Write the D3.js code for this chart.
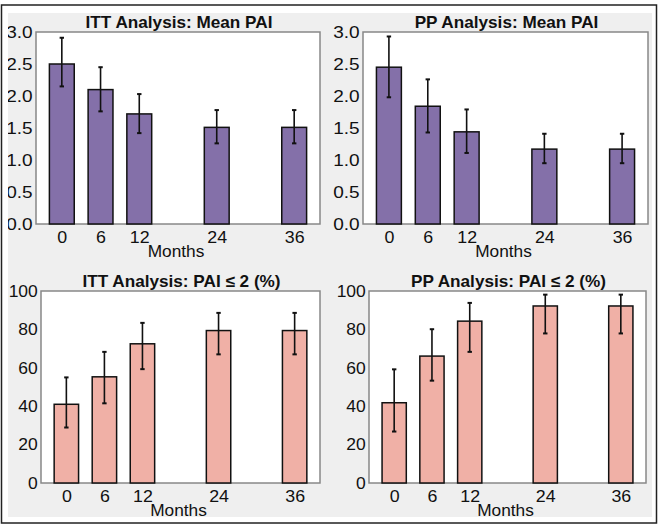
<!DOCTYPE html>
<html>
<head>
<meta charset="utf-8">
<script src="https://cdn.jsdelivr.net/npm/d3@7"></script>
<style>
html,body{margin:0;padding:0;background:#fff;}
svg{display:block;}
text{font-family:"Liberation Sans",Arial,Helvetica,sans-serif;fill:#111;}
</style>
</head>
<body>
<svg id="chart" width="661" height="526"></svg>
<script>
// ---- data ----
const months = [0, 6, 12, 24, 36];
const monthTicks = [0, 6, 12, 24, 36];
const meanTicks = [0, 0.5, 1.0, 1.5, 2.0, 2.5, 3.0];
const pctTicks = [0, 20, 40, 60, 80, 100];

const ittMean   = [2.50, 2.10, 1.72, 1.51, 1.51];
const ittMeanLo = [2.15, 1.76, 1.42, 1.26, 1.26];
const ittMeanHi = [2.91, 2.45, 2.03, 1.78, 1.78];

const ppMean   = [2.45, 1.84, 1.44, 1.17, 1.17];
const ppMeanLo = [1.98, 1.43, 1.11, 0.95, 0.95];
const ppMeanHi = [2.93, 2.26, 1.79, 1.41, 1.41];

const ittPct   = [41.0, 55.3, 72.5, 79.4, 79.4];
const ittPctLo = [28.9, 41.5, 59.3, 67.0, 67.0];
const ittPctHi = [55.0, 68.3, 83.4, 88.6, 88.6];

const ppPct   = [41.8, 66.1, 84.3, 92.2, 92.2];
const ppPctLo = [26.8, 53.3, 68.3, 77.9, 77.9];
const ppPctHi = [59.2, 80.1, 93.8, 98.1, 98.1];

const titles = ["ITT Analysis: Mean PAI", "PP Analysis: Mean PAI", "ITT Analysis: PAI \u2264 2 (%)", "PP Analysis: PAI \u2264 2 (%)"];
const xLabel = "Months";

// ---- layout ----
const panels = [
  {title: titles[0], v: ittMean, lo: ittMeanLo, hi: ittMeanHi, ticks: meanTicks, ymax: 3, fmt: d3.format(".1f"), fill: "#8470a9", x0: 36, x1: 320, y0: 32, y1: 224, tfs: 17, tsx: 1.12},
  {title: titles[1], v: ppMean, lo: ppMeanLo, hi: ppMeanHi, ticks: meanTicks, ymax: 3, fmt: d3.format(".1f"), fill: "#8470a9", x0: 363, x1: 648, y0: 32, y1: 224, tfs: 17, tsx: 1.12},
  {title: titles[2], v: ittPct, lo: ittPctLo, hi: ittPctHi, ticks: pctTicks, ymax: 100, fmt: d3.format("d"), fill: "#f0b0a6", x0: 41, x1: 320, y0: 291, y1: 483, tfs: 16.5, tsx: 1.06},
  {title: titles[3], v: ppPct, lo: ppPctLo, hi: ppPctHi, ticks: pctTicks, ymax: 100, fmt: d3.format("d"), fill: "#f0b0a6", x0: 369, x1: 646, y0: 291, y1: 483, tfs: 16.5, tsx: 1.06}
];
const SX = 1.08;
const barW = 3.85;

const svg = d3.select("#chart");
svg.append("rect").attr("x", 1.5).attr("y", 5).attr("width", 655).attr("height", 518)
  .attr("fill", "#fff").attr("stroke", "#222").attr("stroke-width", 1.5);
svg.append("defs").append("clipPath").attr("id", "clipP")
  .append("rect").attr("x", 8).attr("y", 13).attr("width", 644).attr("height", 504);
svg.append("rect").attr("x", 8).attr("y", 13).attr("width", 644).attr("height", 504).attr("fill", "#efefef");
const root = svg.append("g").attr("clip-path", "url(#clipP)");

panels.forEach(p => {
  const x = d3.scaleLinear().domain([-4, 40]).range([p.x0, p.x1]);
  const y = d3.scaleLinear().domain([0, p.ymax]).range([p.y1, p.y0]);
  const g = root.append("g");

  g.append("rect").attr("x", p.x0).attr("y", p.y0).attr("width", p.x1 - p.x0).attr("height", p.y1 - p.y0)
    .attr("fill", "#fff").attr("stroke", "#888").attr("stroke-width", 1.5);

  // bars
  g.selectAll("rect.bar").data(months).join("rect").attr("class", "bar")
    .attr("x", (m) => x(m - barW / 2))
    .attr("width", (m) => x(m + barW / 2) - x(m - barW / 2))
    .attr("y", (m, i) => y(p.v[i]))
    .attr("height", (m, i) => y(0) - y(p.v[i]))
    .attr("fill", p.fill).attr("stroke", "#111").attr("stroke-width", 1.5);

  // error bars
  g.selectAll("line.err").data(months).join("line").attr("class", "err")
    .attr("x1", m => x(m)).attr("x2", m => x(m))
    .attr("y1", (m, i) => y(p.lo[i])).attr("y2", (m, i) => y(p.hi[i]))
    .attr("stroke", "#111").attr("stroke-width", 1.6);
  ["lo", "hi"].forEach(k => {
    g.selectAll("line.cap" + k).data(months).join("line").attr("class", "cap" + k)
      .attr("x1", m => x(m) - 2.2).attr("x2", m => x(m) + 2.2)
      .attr("y1", (m, i) => y(p[k][i])).attr("y2", (m, i) => y(p[k][i]))
      .attr("stroke", "#111").attr("stroke-width", 2);
  });

  // y axis
  const ya = g.append("g").attr("transform", `translate(${p.x0},0)`)
    .call(d3.axisLeft(y).tickValues(p.ticks).tickFormat(p.fmt).tickSize(0).tickPadding(3));
  ya.select(".domain").remove();
  ya.selectAll("text").attr("font-size", p.tfs).attr("fill", "#111")
    .attr("font-family", '"Liberation Sans",Arial,sans-serif')
    .attr("transform", `scale(${p.tsx},1)`);

  // x axis
  const xa = g.append("g").attr("transform", `translate(0,${p.y1})`)
    .call(d3.axisBottom(x).tickValues(monthTicks).tickFormat(d3.format("d")).tickSize(0).tickPadding(0));
  xa.select(".domain").remove();
  xa.selectAll("text").attr("font-size", 16.5).attr("fill", "#111")
    .attr("font-family", '"Liberation Sans",Arial,sans-serif')
    .attr("dy", null).attr("y", 19.5)
    .attr("transform", `scale(${SX},1)`);

  // x label
  g.append("text").attr("transform", `translate(${(p.x0 + p.x1) / 2 - 2},${p.y1 + 32.5}) scale(${SX},1)`)
    .attr("text-anchor", "middle").attr("font-size", 16).text(xLabel);

  // title
  g.append("text").attr("transform", `translate(${(p.x0 + p.x1) / 2 + 1},${p.y0 - 4.5}) scale(1.04,1)`)
    .attr("text-anchor", "middle").attr("font-size", 16.5).attr("font-weight", "bold").text(p.title);
});
</script>
</body>
</html>
